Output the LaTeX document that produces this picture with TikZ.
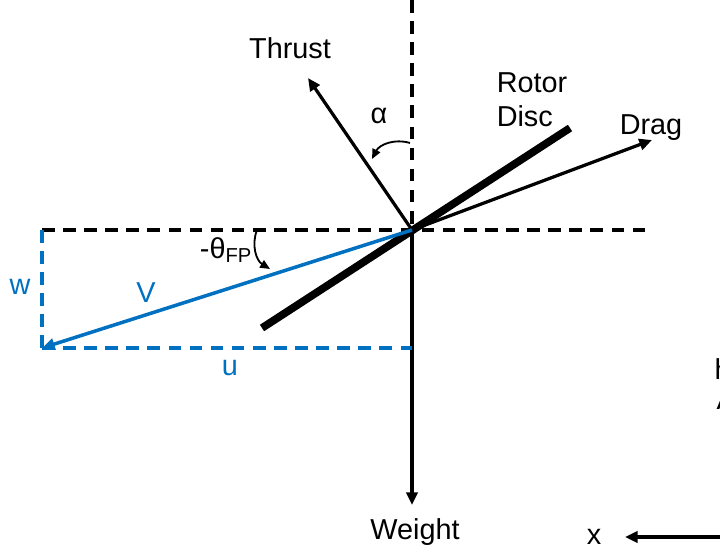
\documentclass[tikz,border=0pt]{standalone}
\usepackage{fontspec}
\setmainfont{Liberation Sans}
\usetikzlibrary{arrows.meta, positioning, calc}
\definecolor{velblue}{RGB}{0,112,192}
\tikzset{
  force/.style={-{Triangle[length=9pt,width=8pt]}, line width=2.3pt},
  refline/.style={dash pattern=on 9pt off 6pt, line width=2.5pt},
  anglearrow/.style={-{Triangle[length=7pt,width=6pt]}, line width=1.3pt},
  lbl/.style={font=\fontsize{20.5}{24}\selectfont, inner sep=1pt},
}

\begin{document}
\begin{tikzpicture}[x=0.025cm, y=-0.025cm]
    \useasboundingbox (0,0) rectangle (720,556);

    % Reference points
    \coordinate (O) at (412,230);
    \coordinate (top) at (412,0);
    \coordinate (left) at (42,230);
    \coordinate (right) at (652,230);
    \coordinate (Vtip) at (42,348);
    \coordinate (ubase) at (412,348);

    % Dashed reference lines
    \draw[refline] (top) -- (O);
    \draw[refline] (left) -- (right);

    % Rotor disc
    \coordinate (discA) at (262,328);
    \coordinate (discB) at (570,128);
    \draw[line width=5.5pt] (discA) -- (discB);
    \node[lbl, align=left] (disclbl) at (532,100) {Rotor\\Disc};

    % Forces
    \node[lbl] (thrust) at (290,48) {Thrust};
    \node[lbl] (drag) at (651,128) {Drag};
    \node[lbl] (weight) at (415,532) {Weight};
    \draw[force] (O) -- (308,78);
    \draw[force] (O) -- (652,140);
    \draw[force] (O) -- (412,505);

    % Velocity components
    \draw[velblue, refline] (left) -- (Vtip);
    \draw[velblue, refline] (Vtip) -- (ubase);
    \draw[velblue, force, line width=2.5pt] (O) -- (Vtip);
    \node[lbl, text=velblue] (w) at (20,287) {w};
    \node[lbl, text=velblue] (V) at (146,293) {V};
    \node[lbl, text=velblue] (u) at (230,368) {u};

    % Angles
    \node[lbl] (alpha) at (379,116) {α};
    \draw[anglearrow] (410,143) to[bend right=40] (372,159);
    \node[lbl] (theta) at (226,250) {-θ\textsubscript{FP}};
    \draw[anglearrow] (257,230) to[bend right=40] (270,269);

    % x axis (cut off at the edge)
    \node[lbl] (xlbl) at (594,537) {x};
    \coordinate (xstart) at (730,537);
    \coordinate (xend) at (625,537);
    \draw[force, line width=2.6pt] (xstart) -- (xend);
    \node[lbl, anchor=west] (cut1) at (713,369) {h};
    \node[lbl, anchor=west] (cut2) at (715,400) {A};
\end{tikzpicture}
\end{document}
